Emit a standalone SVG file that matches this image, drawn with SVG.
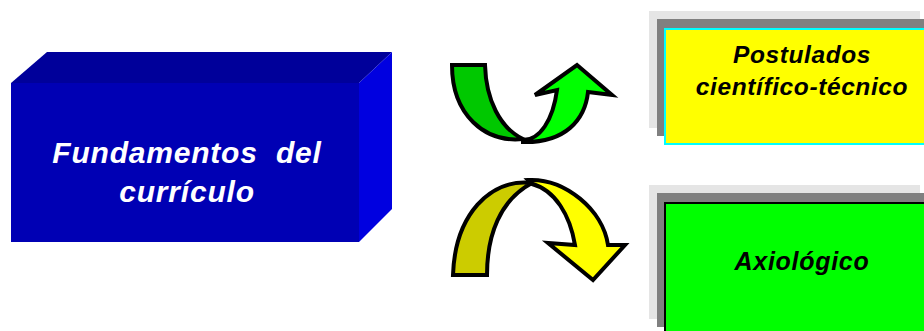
<svg xmlns="http://www.w3.org/2000/svg" width="924" height="331" viewBox="0 0 924 331">
<style>
.t{font-family:"Liberation Sans",Arial,sans-serif;font-weight:bold;font-style:italic;text-anchor:middle;white-space:pre}
.arr{stroke:#000;stroke-width:4;stroke-linejoin:miter}
</style>
<rect width="924" height="331" fill="#fff"/>
<g id="fundamentos">
<polygon points="11,83 47,52 392,52 359,83" fill="#00009A"/>
<polygon points="359,83 392,52 392,209 359,242" fill="#0000E0"/>
<rect x="11" y="83" width="348" height="159" fill="#0000B4"/>
<text class="t" x="187" y="163" font-size="30" letter-spacing="0.8" fill="#fff" xml:space="preserve">Fundamentos  del</text>
<text class="t" x="187" y="202" font-size="30" letter-spacing="0.8" fill="#fff">currículo</text>
</g>
<g id="connectors">
<g id="arrow-up">
<path class="arr" fill="#00C800" d="M452,65 L485,65 C486,100 500,128 523,139 C485,143 452,115 452,65 Z"/>
<path class="arr" fill="#00FF00" d="M523,140 C540,140 553,120 557,90 L535,95 L577,65 L612,95 L588,92 C585,120 565,143 523,142 Z"/>
</g>
<g id="arrow-down">
<path class="arr" fill="#CCCC00" d="M453,275 L487,275 C487,235 500,200 532,183 C490,178 455,215 453,275 Z"/>
<path class="arr" fill="#FFFF00" d="M528,180 C565,178 603,210 608,245 L625,245 L593,280 L548,243 L575,245 C570,215 555,190 532,184 Z"/>
</g>
</g>
<g id="postulados">
<rect x="649" y="11" width="271" height="117" fill="#E5E5E5"/>
<rect x="657" y="19" width="267" height="117" fill="#808080"/>
<rect x="665" y="29" width="262" height="115" fill="#FFFF00" stroke="#00FFFF" stroke-width="2"/>
<text class="t" x="802" y="63" font-size="24.5" letter-spacing="0.6" fill="#000">Postulados</text>
<text class="t" x="802" y="95" font-size="24.5" letter-spacing="0.6" fill="#000">científico-técnico</text>
</g>
<g id="axiologico">
<rect x="649" y="185" width="271" height="134" fill="#E5E5E5"/>
<rect x="657" y="193" width="267" height="134" fill="#808080"/>
<rect x="665" y="203" width="262" height="131" fill="#00FF00" stroke="#000" stroke-width="2"/>
<text class="t" x="802" y="270" font-size="25" letter-spacing="0.7" fill="#000">Axiológico</text>
</g>
</svg>
